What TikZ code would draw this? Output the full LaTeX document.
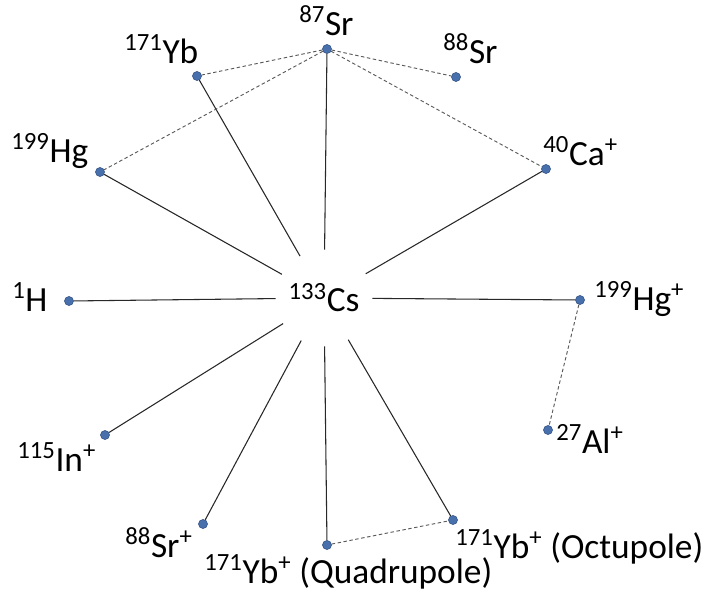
\documentclass[tikz,border=0pt]{standalone}
\usepackage{fontspec}
\setmainfont{Carlito}
\definecolor{dotblue}{RGB}{72,112,172}
\definecolor{dotedge}{RGB}{50,82,130}
\definecolor{linegray}{RGB}{40,40,40}
\definecolor{dashgray}{RGB}{90,90,90}
\newcommand{\iso}[2]{\textsuperscript{#1}#2}
\begin{document}
\begin{tikzpicture}[x=0.75pt,y=-0.75pt,
  dot/.style={circle, fill=dotblue, draw=dotedge, line width=0.4pt, inner sep=0pt, minimum size=6.8pt},
  lbl/.style={font=\fontsize{26.5}{30}\selectfont, inner sep=0pt, anchor=base west},
  hub/.style={circle, minimum size=72pt, inner sep=0pt, font=\fontsize{26.5}{30}\selectfont},
  link/.style={draw=linegray, line width=0.8pt},
  weak/.style={draw=dashgray, line width=0.7pt, dash pattern=on 2.6pt off 1.9pt}]
\useasboundingbox (0,0) rectangle (710,596);

% central clock
\node[hub] (cs) at (324,298) {\iso{133}{Cs}};

% reference points
\node[dot] (sr87)  at (327,49)  {};
\node[dot] (yb171) at (197,76)  {};
\node[dot] (sr88)  at (456,77)  {};
\node[dot] (hg199) at (100,172) {};
\node[dot] (ca40)  at (546,169) {};
\node[dot] (h1)    at (69,301)  {};
\node[dot] (hgp)   at (580,300) {};
\node[dot] (alp)   at (548,430) {};
\node[dot] (inp)   at (105,435) {};
\node[dot] (srp)   at (203,524) {};
\node[dot] (ybq)   at (327,545) {};
\node[dot] (ybo)   at (453,520) {};

% labels
\node[lbl] (tsr87)  at (299,35)  {\iso{87}{Sr}};
\node[lbl] (tyb171) at (124,63)  {\iso{171}{Yb}};
\node[lbl] (tsr88)  at (443,63)  {\iso{88}{Sr}};
\node[lbl] (thg199) at (11,162)  {\iso{199}{Hg}};
\node[lbl] (tca40)  at (543,165) {\iso{40}{Ca}\textsuperscript{+}};
\node[lbl] (th1)    at (12,311)  {\iso{1}{H}};
\node[lbl] (thgp)   at (594,310) {\iso{199}{Hg}\textsuperscript{+}};
\node[lbl] (talp)   at (556,453) {\iso{27}{Al}\textsuperscript{+}};
\node[lbl] (tinp)   at (17,471)  {\iso{115}{In}\textsuperscript{+}};
\node[lbl] (tsrp)   at (125,557) {\iso{88}{Sr}\textsuperscript{+}};
\node[lbl] (tybq)   at (204,583) {\iso{171}{Yb}\textsuperscript{+} (Quadrupole)};
\node[lbl] (tybo)   at (455,558) {\iso{171}{Yb}\textsuperscript{+} (Octupole)};

% direct frequency ratios to Cs
\foreach \n in {sr87,yb171,hg199,ca40,h1,hgp,inp,srp,ybq,ybo}
  \draw[link] (cs) -- (\n);

% optical ratios
\draw[weak] (sr87) -- (yb171);
\draw[weak] (sr87) -- (hg199);
\draw[weak] (sr87) -- (sr88);
\draw[weak] (sr87) -- (ca40);
\draw[weak] (hgp) -- (alp);
\draw[weak] (ybq) -- (ybo);
\end{tikzpicture}
\end{document}
